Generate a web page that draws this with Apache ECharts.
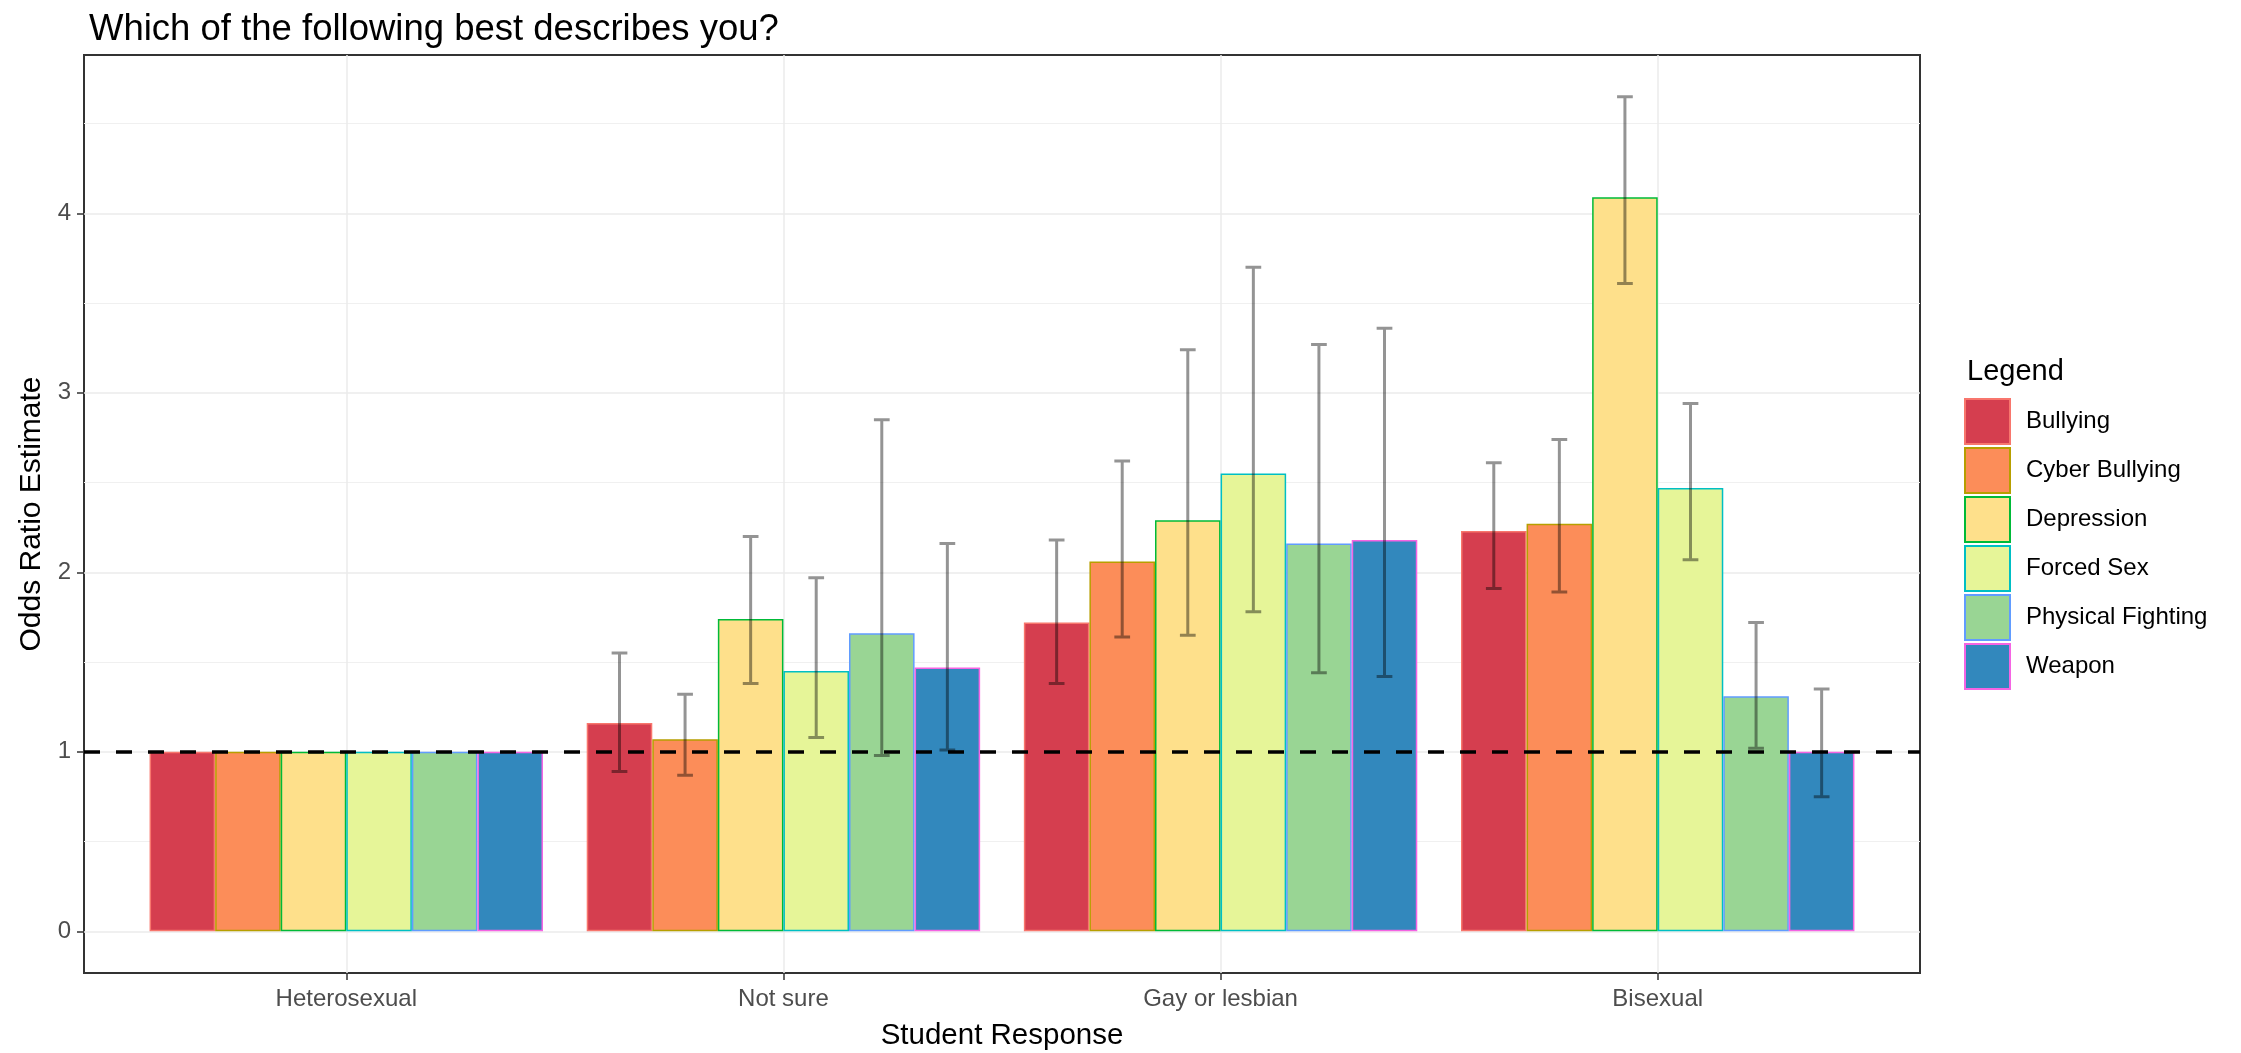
<!DOCTYPE html>
<html>
<head>
<meta charset="utf-8">
<script src="https://cdn.jsdelivr.net/npm/echarts@6/dist/echarts.min.js"></script>
<style>
  html, body { margin: 0; padding: 0; background: #ffffff; }
  #chart { width: 2241px; height: 1053px; }
</style>
</head>
<body>
<div id="chart"></div>
<script>
// Odds ratio estimates by sexual identity, with 95% confidence intervals
const categories = ['Heterosexual', 'Not sure', 'Gay or lesbian', 'Bisexual'];
const seriesNames = ['Bullying', 'Cyber Bullying', 'Depression', 'Forced Sex', 'Physical Fighting', 'Weapon'];

const bullying         = [1, 1.16, 1.72, 2.23];
const cyberBullying    = [1, 1.07, 2.06, 2.27];
const depression       = [1, 1.74, 2.29, 4.09];
const forcedSex        = [1, 1.45, 2.55, 2.47];
const physicalFighting = [1, 1.66, 2.16, 1.31];
const weapon           = [1, 1.47, 2.18, 1.00];

// lower / upper confidence limits (reference group has none)
const bullyingLow          = [null, 0.89, 1.38, 1.91];
const bullyingHigh         = [null, 1.55, 2.18, 2.61];
const cyberBullyingLow     = [null, 0.87, 1.64, 1.89];
const cyberBullyingHigh    = [null, 1.32, 2.62, 2.74];
const depressionLow        = [null, 1.38, 1.65, 3.61];
const depressionHigh       = [null, 2.20, 3.24, 4.65];
const forcedSexLow         = [null, 1.08, 1.78, 2.07];
const forcedSexHigh        = [null, 1.97, 3.70, 2.94];
const physicalFightingLow  = [null, 0.98, 1.44, 1.02];
const physicalFightingHigh = [null, 2.85, 3.27, 1.72];
const weaponLow            = [null, 1.01, 1.42, 0.75];
const weaponHigh           = [null, 2.16, 3.36, 1.35];

const yTicks = [0, 1, 2, 3, 4];
const yMinorTicks = [0.5, 1.5, 2.5, 3.5, 4.5];
const referenceLine = 1;

const values = [bullying, cyberBullying, depression, forcedSex, physicalFighting, weapon];
const lows = [bullyingLow, cyberBullyingLow, depressionLow, forcedSexLow, physicalFightingLow, weaponLow];
const highs = [bullyingHigh, cyberBullyingHigh, depressionHigh, forcedSexHigh, physicalFightingHigh, weaponHigh];

const fills = ['#D53E4F', '#FC8D59', '#FEE08B', '#E6F598', '#99D594', '#3288BD'];
const outlines = ['#F8766D', '#B79F00', '#00BA38', '#00BFC4', '#619CFF', '#F564E3'];

const FONT = "'Liberation Sans', Arial, sans-serif";
const GROUP_WIDTH = 0.9;

// value range with 5% padding like the panel expansion
const dataMax = Math.max(...highs.flat().filter(v => v != null), ...values.flat());
const yMin = -0.05 * dataMax;
const yMax = dataMax * 1.05;

// panel geometry
const panel = { left: 84, right: 321, top: 55, bottom: 80 };
const panelWidth = 2241 - panel.left - panel.right;
const unit = panelWidth / (categories.length + 0.2);

const errorData = [];
lows.forEach((lo, s) => {
  lo.forEach((v, c) => {
    if (v != null) errorData.push([c, s, v, highs[s][c]]);
  });
});

const barSeries = seriesNames.map((name, i) => ({
  name: name,
  type: 'bar',
  xAxisIndex: 1,
  yAxisIndex: 2,
  data: values[i],
  barGap: '0%',
  barCategoryGap: ((1 - GROUP_WIDTH) * 100) + '%',
  itemStyle: { color: fills[i], borderColor: outlines[i], borderWidth: 1.5 },
  emphasis: { disabled: true },
  z: 3
}));

const chart = echarts.init(document.getElementById('chart'), null, { renderer: 'canvas' });

chart.setOption({
  animation: false,
  backgroundColor: '#ffffff',
  title: [
    {
      text: 'Which of the following best describes you?',
      left: 84, top: 6,
      textStyle: { fontFamily: FONT, fontSize: 36.5, fontWeight: 'normal', color: '#000000' }
    },
    {
      text: 'Legend',
      left: 1962, top: 352,
      textStyle: { fontFamily: FONT, fontSize: 29, fontWeight: 'normal', color: '#000000' }
    }
  ],
  legend: {
    data: seriesNames,
    orient: 'vertical',
    left: 1964, top: 398,
    padding: 0,
    itemWidth: 45, itemHeight: 45, itemGap: 2,
    icon: 'rect',
    selectedMode: false,
    textStyle: { fontFamily: FONT, fontSize: 24, color: '#000000', padding: [0, 0, 0, 11] }
  },
  grid: [
    {
      left: panel.left, right: panel.right, top: panel.top, bottom: panel.bottom,
      show: true, borderColor: '#333333', borderWidth: 2, backgroundColor: 'transparent',
      outerBoundsMode: 'none', containLabel: false
    },
    {
      left: panel.left + (0.6 - GROUP_WIDTH / 2 - 0.05) * unit, right: panel.right + 0.1 * unit,
      top: panel.top, bottom: panel.bottom,
      outerBoundsMode: 'none', containLabel: false
    }
  ],
  xAxis: [
    {
      type: 'value', gridIndex: 0, position: 'bottom',
      min: 0.4, max: categories.length + 0.6,
      name: 'Student Response', nameLocation: 'middle', nameGap: 48,
      nameTextStyle: { fontFamily: FONT, fontSize: 29.5, color: '#000000' },
      axisLine: { show: false, onZero: false },
      axisTick: { show: true, length: 7, customValues: [1, 2, 3, 4], lineStyle: { color: '#333333', width: 1.5 } },
      axisLabel: {
        customValues: [1, 2, 3, 4], margin: 14,
        formatter: v => categories[Math.round(v) - 1] || '',
        fontFamily: FONT, fontSize: 24, color: '#4D4D4D'
      },
      splitLine: { show: true, lineStyle: { color: '#EBEBEB', width: 1.5 } }
    },
    {
      type: 'category', gridIndex: 1, data: categories, show: false,
      axisLine: { onZero: false }
    }
  ],
  yAxis: [
    {
      type: 'value', gridIndex: 0, min: yMin, max: yMax,
      name: 'Odds Ratio Estimate', nameLocation: 'middle', nameGap: 30, nameRotate: 90,
      nameTextStyle: { fontFamily: FONT, fontSize: 30, color: '#000000' },
      axisLine: { show: false, onZero: false },
      axisTick: { show: true, length: 7, customValues: yTicks, lineStyle: { color: '#333333', width: 1.5 } },
      axisLabel: { customValues: yTicks, margin: 13, fontFamily: FONT, fontSize: 24, color: '#4D4D4D' },
      splitLine: { show: true, lineStyle: { color: '#EBEBEB', width: 1.5 } }
    },
    {
      type: 'value', gridIndex: 0, min: yMin, max: yMax, position: 'left',
      axisLine: { show: false, onZero: false },
      axisTick: { show: false, customValues: yMinorTicks },
      axisLabel: { show: false, customValues: yMinorTicks },
      splitLine: { show: true, lineStyle: { color: '#F0F0F0', width: 1.2 } }
    },
    {
      type: 'value', gridIndex: 1, min: yMin, max: yMax, show: false,
      splitLine: { show: false }
    }
  ],
  series: [
    ...barSeries,
    {
      name: 'intervals',
      type: 'custom',
      xAxisIndex: 1,
      yAxisIndex: 2,
      data: errorData,
      z: 5,
      silent: true,
      renderItem: function (params, api) {
        const cat = api.value(0), s = api.value(1), lo = api.value(2), hi = api.value(3);
        const band = api.size([1, 0])[0];
        const barW = band * GROUP_WIDTH / seriesNames.length;
        const cx = api.coord([cat, 0])[0] + (s - (seriesNames.length - 1) / 2) * barW;
        const yLo = api.coord([cat, lo])[1];
        const yHi = api.coord([cat, hi])[1];
        const c = barW * 0.12;
        return {
          type: 'polyline',
          shape: { points: [[cx - c, yHi], [cx + c, yHi], [cx, yHi], [cx, yLo], [cx - c, yLo], [cx + c, yLo]] },
          style: { fill: null, stroke: 'rgba(0,0,0,0.42)', lineWidth: 3 }
        };
      }
    },
    {
      name: 'reference',
      type: 'line',
      xAxisIndex: 0,
      yAxisIndex: 0,
      data: [],
      silent: true,
      z: 6,
      markLine: {
        silent: true,
        symbol: 'none',
        label: { show: false },
        lineStyle: { color: '#000000', width: 3.5, type: [16, 16] },
        data: [{ yAxis: referenceLine }]
      }
    }
  ]
});
</script>
</body>
</html>
